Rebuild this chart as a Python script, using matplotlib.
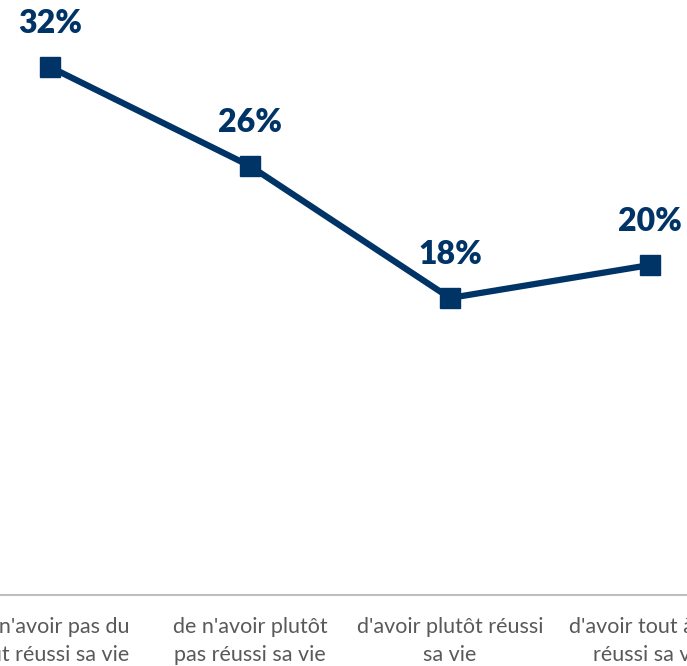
import matplotlib.pyplot as plt

# Données
categories = [
    "de n'avoir pas du\ntout réussi sa vie",
    "de n'avoir plutôt\npas réussi sa vie",
    "d'avoir plutôt réussi\nsa vie",
    "d'avoir tout à fait\nréussi sa vie",
]
valeurs = [32, 26, 18, 20]

couleur = "#003366"

fig = plt.figure(figsize=(6.87, 6.66), dpi=100)
# Axes plus larges que la figure : les libellés extrêmes sont coupés comme dans l'original
ax = fig.add_axes([-50 / 687, 71 / 666, 800 / 687, 594 / 666])

x = list(range(len(valeurs)))
ax.plot(x, valeurs, color=couleur, linewidth=4.5, marker="s", markersize=14,
        clip_on=False)

for xi, v in zip(x, valeurs):
    ax.annotate(f"{v}%", (xi, v), xytext=(0, 31), textcoords="offset points",
                ha="center", va="center", fontsize=23, fontweight="heavy",
                color=couleur, family="Lato")

ax.set_xlim(-0.5, 3.5)
ax.set_ylim(0, 36)
ax.set_xticks(x)
ax.set_xticklabels(categories, fontsize=15.5, color="#595959", family="Lato",
                   linespacing=1.5)
ax.tick_params(axis="x", length=0, pad=16)
ax.set_yticks([])
for side in ["top", "left", "right"]:
    ax.spines[side].set_visible(False)
ax.spines["bottom"].set_color("#BFBFBF")
ax.spines["bottom"].set_linewidth(1.5)

fig.savefig("out.png", dpi=100)
